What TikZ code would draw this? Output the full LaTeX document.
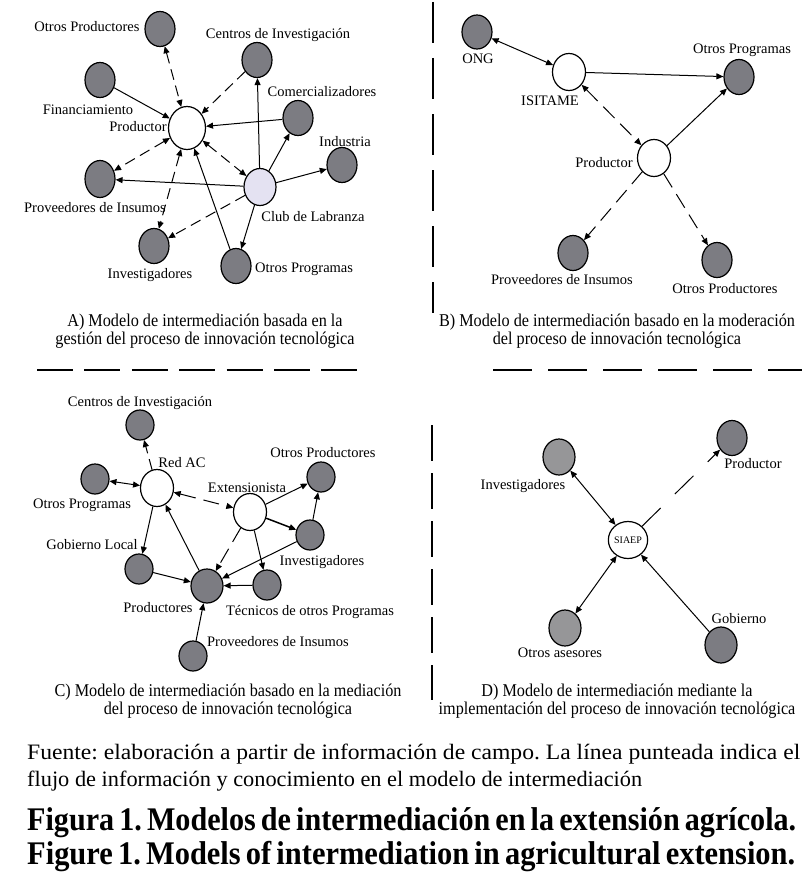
\documentclass[tikz,border=0pt]{standalone}
\usepackage{fontspec}
\setmainfont{Liberation Serif}
\usepackage{graphicx}
\usetikzlibrary{shapes.geometric,arrows.meta}
\frenchspacing
\definecolor{dkg}{RGB}{124,124,130}
\definecolor{ltg}{RGB}{150,150,152}
\definecolor{lav}{RGB}{228,226,242}
\newsavebox\hfbox
\newcommand\hfit[2]{\sbox\hfbox{#2}\pgfmathsetmacro\hfsc{#1/\the\wd\hfbox}\scalebox{\hfsc}[1]{\usebox\hfbox}}
\newcommand\captwo[2]{\scalebox{0.9}[1]{\fontsize{18}{18}\selectfont\setlength\tabcolsep{0pt}\begin{tabular}{c}#1\\#2\end{tabular}}}
\tikzset{
  dk/.style={ellipse,draw,line width=1.2pt,fill=dkg,minimum width=30pt,minimum height=35pt,inner sep=0pt},
  dc/.style={dk,minimum width=28pt,minimum height=30pt},
  lt/.style={dk,fill=ltg},
  wh/.style={ellipse,draw,line width=1.2pt,fill=white,minimum width=33pt,minimum height=37pt,inner sep=0pt},
  lbl/.style={inner sep=0pt,font=\fontsize{14.5}{15}\selectfont},
  sa/.style={line width=1pt,-{Triangle[length=7pt,width=6pt]}},
  ba/.style={line width=1pt,{Triangle[length=7pt,width=6pt]}-{Triangle[length=7pt,width=6pt]}},
  da/.style={sa,dash pattern=on 11pt off 6pt},
  dba/.style={ba,dash pattern=on 11pt off 6pt},
  divl/.style={line width=2.4pt},
}
\begin{document}
\begin{tikzpicture}[x=1pt,y=-1pt]
\useasboundingbox (0,0) rectangle (809,891);
% dividers
\draw[divl,dash pattern=on 41pt off 15pt] (433,2) -- (433,313);
\draw[divl,dash pattern=on 36pt off 12pt] (432,425) -- (432,700);
\draw[divl,dash pattern=on 36pt off 11.4pt] (37,370) -- (360,370);
\draw[divl,dash pattern=on 39pt off 16pt] (493,370) -- (802,370);

% ===== A =====
\node[dk] (aOP) at (160,29) {};
\node[dk] (aFi) at (100,80) {};
\node[wh,minimum width=37pt,minimum height=43pt] (aPr) at (187,128) {};
\node[dk] (aCI) at (257,60) {};
\node[dk] (aCo) at (298,118) {};
\node[dk] (aIn) at (342,165) {};
\node[wh,fill=lav,minimum width=32pt] (aCl) at (260,187) {};
\node[dk,minimum height=37pt] (aPv) at (100,179) {};
\node[dk] (aIv) at (154,246) {};
\node[dk] (aOG) at (236,266) {};
\node[lbl] at (87,27) {Otros Productores};
\node[lbl] at (88,110) {Financiamiento};
\node[lbl] at (138,127) {Productor};
\node[lbl] at (278,35) {Centros de Investigación};
\node[lbl] at (322,92) {Comercializadores};
\node[lbl] at (345,142) {Industria};
\node[lbl] at (313,217) {Club de Labranza};
\node[lbl] at (95,208) {Proveedores de Insumos};
\node[lbl] at (150,275) {Investigadores};
\node[lbl,anchor=west] at (255,269) {Otros Programas};
\draw[dba] (aOP) -- (aPr);
\draw[sa] (aFi) -- (aPr);
\draw[da] (aCI) -- (aPr);
\draw[sa] (aCo) -- (aPr);
\draw[sa] (aCl) -- (aCI);
\draw[sa] (aCl) -- (aCo);
\draw[sa] (aCl) -- (aIn);
\draw[sa] (aCl) -- (aPv);
\draw[dba] (aPr) -- (aPv);
\draw[dba] (aPr) -- (aCl);
\draw[dba] (aPr) -- (aIv);
\draw[da] (aCl) -- (aIv);
\draw[sa] (aOG) -- (aPr);
\draw[sa] (aCl) -- (aOG);
\node at (205,332) {\captwo{A) Modelo de intermediación basada en la}{gestión del proceso de innovación tecnológica}};

% ===== B =====
\node[dk,minimum height=34pt] (bONG) at (477,32) {};
\node[wh] (bIS) at (569,72) {};
\node[dk] (bOPg) at (739,77) {};
\node[wh] (bPr) at (654,158) {};
\node[dk] (bPv) at (573,253) {};
\node[dk] (bOPd) at (717,260) {};
\node[lbl] at (478,59) {ONG};
\node[lbl] at (550,101) {ISITAME};
\node[lbl] at (742,50) {Otros Programas};
\node[lbl] at (604,163) {Productor};
\node[lbl] at (562,280) {Proveedores de Insumos};
\node[lbl] at (725,289) {Otros Productores};
\draw[ba] (bONG) -- (bIS);
\draw[sa] (bIS) -- (bOPg);
\draw[dba,dash pattern=on 16pt off 8pt] (bIS) -- (bPr);
\draw[sa] (bPr) -- (bOPg);
\draw[da,dash pattern=on 16pt off 8pt] (bPr) -- (bPv);
\draw[da,dash pattern=on 16pt off 8pt] (bPr) -- (bOPd);
\node at (617,332) {\captwo{B) Modelo de intermediación basado en la moderación}{del proceso de innovación tecnológica}};

% ===== C =====
\node[dc] (cCI) at (140,425) {};
\node[wh] (cRed) at (157,488) {};
\node[dc] (cOPg) at (95,479) {};
\node[wh] (cExt) at (250,512) {};
\node[dc] (cOPd) at (321,477) {};
\node[dc] (cIv) at (310,535) {};
\node[dc] (cGL) at (139,569) {};
\node[dk,minimum width=32pt,minimum height=34pt] (cPr) at (207,586) {};
\node[dc] (cTe) at (267,585) {};
\node[dc] (cPv) at (193,656) {};
\node[lbl] at (140,403) {Centros de Investigación};
\node[lbl] at (182,463) {Red AC};
\node[lbl] at (82,505) {Otros Programas};
\node[lbl] at (247,488) {Extensionista};
\node[lbl] at (323,453) {Otros Productores};
\node[lbl] at (322,562) {Investigadores};
\node[lbl] at (92,545) {Gobierno Local};
\node[lbl] at (158,608) {Productores};
\node[lbl] at (310,612) {Técnicos de otros Programas};
\node[lbl] at (278,642) {Proveedores de Insumos};
\draw[da] (cRed) -- (cCI);
\draw[ba] (cRed) -- (cOPg);
\draw[dba,dash pattern=on 16pt off 8pt] (cRed) -- (cExt);
\draw[sa] (cRed) -- (cGL);
\draw[sa] (cPr) -- (cRed);
\draw[sa] (cGL) -- (cPr);
\draw[da,dash pattern=on 16pt off 8pt] (cExt) -- (cPr);
\draw[sa] (cIv) -- (cPr);
\draw[sa] (cTe) -- (cPr);
\draw[sa] (cPv) -- (cPr);
\draw[sa] (cExt) -- (cOPd);
\draw[sa] (cIv) -- (cOPd);
\draw[sa,line width=1.5pt] (cExt) -- (cIv);
\draw[sa] (cExt) -- (cTe);
\node at (228,702) {\captwo{C) Modelo de intermediación basado en la mediación}{del proceso de innovación tecnológica}};

% ===== D =====
\node[lt,minimum width=32pt,minimum height=36pt] (dIv) at (559,457) {};
\node[dk] (dPr) at (732,438) {};
\node[wh,font=\fontsize{10}{10}\selectfont] (dS) at (628,540) {SIAEP};
\node[lt,minimum width=32pt,minimum height=36pt] (dOA) at (565,628) {};
\node[dk,minimum width=32pt,minimum height=36pt] (dGo) at (721,645) {};
\node[lbl] at (523,486) {Investigadores};
\node[lbl] at (753,464) {Productor};
\node[lbl] at (560,653) {Otros asesores};
\node[lbl] at (739,619) {Gobierno};
\draw[ba] (dIv) -- (dS);
\draw[sa,dash pattern=on 26pt off 20pt] (dS) -- (dPr);
\draw[ba] (dOA) -- (dS);
\draw[sa] (dGo) -- (dS);
\node at (617,702) {\captwo{D) Modelo de intermediación mediante la}{implementación del proceso de innovación tecnológica}};

% ===== footer =====
\node[anchor=base west,inner sep=0pt] at (27,759) {\hfit{773}{\fontsize{22}{22}\selectfont Fuente: elaboración a partir de información de campo. La línea punteada indica el}};
\node[anchor=base west,inner sep=0pt] at (27,786) {\hfit{615}{\fontsize{22}{22}\selectfont flujo de información y conocimiento en el modelo de intermediación}};
\node[anchor=base west,inner sep=0pt] at (27,830) {\hfit{769}{\fontsize{33}{33}\selectfont\bfseries\spaceskip=0.17em Figura 1. Modelos de intermediación en la extensión agrícola.}};
\node[anchor=base west,inner sep=0pt] at (27,864) {\hfit{768}{\fontsize{33}{33}\selectfont\bfseries\spaceskip=0.17em Figure 1. Models of intermediation in agricultural extension.}};
\end{tikzpicture}
\end{document}
